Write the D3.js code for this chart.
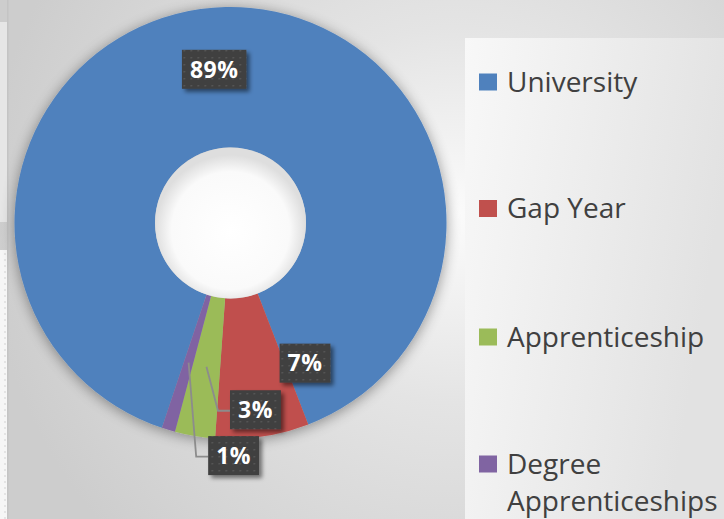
<!DOCTYPE html>
<html><head><meta charset="utf-8">
<script src="https://cdn.jsdelivr.net/npm/d3@7"></script>
<style>html,body{margin:0;padding:0;background:#ddd;overflow:hidden}svg{display:block}</style>
</head><body>
<svg id="chart" width="724" height="519"></svg>
<script>
// ---- data ----
const categories = ["University", "Gap Year", "Apprenticeship", "Degree Apprenticeships"];
const values = [89, 7, 3, 1];
const percentLabels = ["89%", "7%", "3%", "1%"];
const colors = ["#4f81bd", "#c0504d", "#9bbb59", "#8064a2"];

// ---- layout ----
const W = 724, H = 519;
const cx = 230.5, cy = 223, rOuter = 216, rInner = 75.5;
const startDeg = 198.5;
// label offsets from slice centroid (px) and whether leader line used
const labelOffsets = [[-13, -8], [53, -4], [49, 43], [45, 93]];
const leaders = [false, false, true, true];

const svg = d3.select("#chart");
const defs = svg.append("defs");

// background gradient
const bg = defs.append("radialGradient").attr("id", "bg")
  .attr("gradientUnits", "userSpaceOnUse").attr("cx", 455).attr("cy", 215).attr("r", 470);
bg.append("stop").attr("offset", "0").attr("stop-color", "#fbfbfb");
bg.append("stop").attr("offset", "0.4").attr("stop-color", "#e4e4e4");
bg.append("stop").attr("offset", "1").attr("stop-color", "#cdcdcd");

const lg = defs.append("linearGradient").attr("id", "legbg")
  .attr("x1", "0").attr("y1", "0").attr("x2", "1").attr("y2", "0.3");
lg.append("stop").attr("offset", "0").attr("stop-color", "#f8f8f8");
lg.append("stop").attr("offset", "1").attr("stop-color", "#e2e2e2");

const hole = defs.append("radialGradient").attr("id", "hole")
  .attr("cx", "0.5").attr("cy", "0.55").attr("r", "0.5");
hole.append("stop").attr("offset", "0").attr("stop-color", "#ffffff");
hole.append("stop").attr("offset", "0.78").attr("stop-color", "#fafafa");
hole.append("stop").attr("offset", "1").attr("stop-color", "#dedede");

const shadow = defs.append("filter").attr("id", "shadow")
  .attr("x", "-20%").attr("y", "-20%").attr("width", "140%").attr("height", "140%");
shadow.append("feGaussianBlur").attr("in", "SourceAlpha").attr("stdDeviation", 7).attr("result", "b");
shadow.append("feOffset").attr("in", "b").attr("dx", 0).attr("dy", 2).attr("result", "o");
shadow.append("feComponentTransfer").attr("in", "o").attr("result", "o2")
  .append("feFuncA").attr("type", "linear").attr("slope", 0.4);
const sm = shadow.append("feMerge");
sm.append("feMergeNode").attr("in", "o2");
sm.append("feMergeNode").attr("in", "SourceGraphic");

const boxShadow = defs.append("filter").attr("id", "boxshadow")
  .attr("x", "-30%").attr("y", "-30%").attr("width", "160%").attr("height", "170%");
boxShadow.append("feGaussianBlur").attr("in", "SourceAlpha").attr("stdDeviation", 2).attr("result", "b");
boxShadow.append("feOffset").attr("in", "b").attr("dx", 3).attr("dy", 3).attr("result", "o");
boxShadow.append("feComponentTransfer").attr("in", "o").attr("result", "o2")
  .append("feFuncA").attr("type", "linear").attr("slope", 0.5);
const bm = boxShadow.append("feMerge");
bm.append("feMergeNode").attr("in", "o2");
bm.append("feMergeNode").attr("in", "SourceGraphic");

const pat = defs.append("pattern").attr("id", "dots")
  .attr("patternUnits", "userSpaceOnUse").attr("width", 7).attr("height", 7);
pat.append("rect").attr("width", 7).attr("height", 7).attr("fill", "#3f3f3f");
pat.append("rect").attr("x", 2).attr("y", 2).attr("width", 1.5).attr("height", 1.5).attr("fill", "#5c5c5c");

const lpat = defs.append("pattern").attr("id", "strip")
  .attr("patternUnits", "userSpaceOnUse").attr("width", 7).attr("height", 6);
lpat.append("rect").attr("width", 7).attr("height", 6).attr("fill", "#f6f6f6");
lpat.append("rect").attr("x", 4).attr("y", 1).attr("width", 2).attr("height", 2).attr("fill", "#e4e4e4");

// background
svg.append("rect").attr("width", W).attr("height", H).attr("fill", "url(#bg)");
// left edge artifacts
svg.append("rect").attr("x", 0).attr("y", 22).attr("width", 7).attr("height", 200).attr("fill", "#e6e6e6");
svg.append("rect").attr("x", 0).attr("y", 250).attr("width", 7).attr("height", 269).attr("fill", "url(#strip)");
svg.append("rect").attr("x", 7).attr("y", 0).attr("width", 1.5).attr("height", H).attr("fill", "#c4c4c4");
// legend panel
svg.append("rect").attr("x", 465).attr("y", 38).attr("width", W - 465).attr("height", H - 38).attr("fill", "url(#legbg)");

// donut
const pie = d3.pie().sort(null).value(d => d)
  .startAngle(startDeg * Math.PI / 180).endAngle(startDeg * Math.PI / 180 + 2 * Math.PI);
const arcs = pie(values);
const arc = d3.arc().innerRadius(rInner).outerRadius(rOuter);
const g = svg.append("g").attr("transform", `translate(${cx},${cy})`);
const ring = g.append("g").attr("filter", "url(#shadow)");
ring.selectAll("path").data(arcs).join("path")
  .attr("d", arc).attr("fill", (d, i) => colors[i]);
g.append("circle").attr("r", rInner).attr("fill", "url(#hole)");

// labels
const labelArc = d3.arc().innerRadius(rInner).outerRadius(rOuter);
const lab = g.append("g").style("font-family", "'Open Sans', sans-serif");
arcs.forEach((d, i) => {
  const [px, py] = labelArc.centroid(d);
  const lx = px + labelOffsets[i][0], ly = py + labelOffsets[i][1];
  const t = lab.append("text").attr("x", lx).attr("y", ly).attr("dy", "0.36em")
    .attr("text-anchor", "middle").attr("fill", "#fff")
    .style("font-size", "23px").style("font-weight", "bold").style("letter-spacing", "0.5px")
    .text(percentLabels[i]);
  const tw = t.node().getComputedTextLength();
  const bw = tw + 16, bh = 39;
  if (leaders[i]) {
    const bx = lx - bw / 2;
    lab.insert("path", ":first-child")
      .attr("d", `M${px},${py}L${bx - 12},${ly + 1}L${bx},${ly + 1}`)
      .attr("fill", "none").attr("stroke", "#8c8c8c").attr("stroke-width", 1.8);
  }
  lab.insert("rect", () => t.node())
    .attr("x", lx - bw / 2).attr("y", ly - bh / 2).attr("width", bw).attr("height", bh)
    .attr("fill", "url(#dots)").attr("filter", "url(#boxshadow)");
});

// legend
const legY = [82, 208.5, 337, 464];
const leg = svg.append("g").style("font-family", "'Open Sans', sans-serif");
categories.forEach((c, i) => {
  leg.append("rect").attr("x", 479).attr("y", legY[i] - 8.5).attr("width", 18).attr("height", 17)
    .attr("fill", colors[i]);
  const words = c === "Degree Apprenticeships" ? ["Degree", "Apprenticeships"] : [c];
  const t = leg.append("text").attr("x", 507).attr("y", legY[i] + 9.5)
    .attr("fill", "#404040").style("font-size", "28px");
  words.forEach((w, k) => t.append("tspan").attr("x", 507).attr("dy", k === 0 ? 0 : 37.5).text(w));
});
</script>
</body></html>
